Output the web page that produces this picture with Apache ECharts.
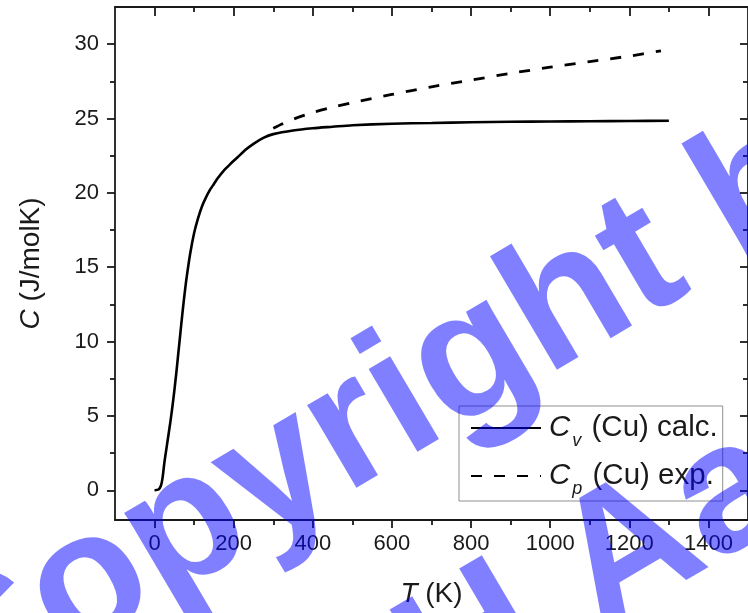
<!DOCTYPE html>
<html>
<head>
<meta charset="utf-8">
<script src="https://cdn.jsdelivr.net/npm/echarts@6/dist/echarts.min.js"></script>
<style>
html,body{margin:0;padding:0;background:#fff;}
#c{width:748px;height:613px;}
</style>
</head>
<body>
<div id="c"></div>
<script>
// ---- data ----
const cvT = [0, 10, 16, 20, 25, 30, 35, 40, 45, 50, 55, 60, 65, 70, 75, 80, 90, 100, 110, 120, 130, 140, 150, 160, 175, 190, 210, 230, 250, 275, 300, 350, 400, 450, 500, 600, 700, 800, 900, 1000, 1100, 1200, 1300];
const cvC = [0.0, 0.05, 0.3, 0.8, 1.9, 2.8, 3.7, 4.6, 5.6, 6.7, 7.9, 9.2, 10.5, 11.8, 13.0, 14.1, 15.9, 17.3, 18.3, 19.1, 19.7, 20.2, 20.6, 21.0, 21.5, 21.9, 22.4, 22.9, 23.3, 23.7, 23.95, 24.2, 24.35, 24.45, 24.55, 24.65, 24.7, 24.75, 24.78, 24.8, 24.82, 24.83, 24.85];
const cpT = [300, 325, 350, 400, 450, 500, 600, 700, 800, 900, 1000, 1100, 1200, 1280];
const cpC = [24.35, 24.67, 24.95, 25.4, 25.76, 26.07, 26.62, 27.13, 27.58, 28.04, 28.45, 28.83, 29.2, 29.55];

const xMajor = [0, 200, 400, 600, 800, 1000, 1200, 1400];
const xMinor = [100, 300, 500, 700, 900, 1100, 1300];
const yMajor = [0, 5, 10, 15, 20, 25, 30];
const yMinor = [2.5, 7.5, 12.5, 17.5, 22.5, 27.5];

const seriesNames = ['Cv (Cu) calc.', 'Cp (Cu) exp.'];
const legendMain = ['C', 'C'];
const legendSub = ['v', 'p'];
const legendRest = [' (Cu) calc.', ' (Cu) exp.'];

const watermarkLines = ['Copyright by', 'RWTH Aachen'];

// ---- chart ----
const FF = '"Liberation Sans", Arial, sans-serif';
const INK = '#1a1a1a';
const axisLS = {color: INK, width: 1.8};
const plain = v => String(v);

function xAx(pos, ticks, len, inside, labels, line, extra) {
  return Object.assign({
    type: 'value', min: -100, max: 1500, interval: 100, position: pos,
    axisLine: {show: line, onZero: false, lineStyle: axisLS},
    axisTick: {show: true, customValues: ticks, length: len, inside: inside, lineStyle: axisLS},
    axisLabel: labels ? {show: true, customValues: ticks, formatter: plain, fontSize: 22, fontFamily: FF, color: INK, margin: 13} : {show: false},
    splitLine: {show: false}
  }, extra || {});
}
function yAx(pos, ticks, len, inside, labels, line, extra) {
  return Object.assign({
    type: 'value', min: -2, max: 32.5, interval: 2.5, position: pos,
    axisLine: {show: line, onZero: false, lineStyle: axisLS},
    axisTick: {show: true, customValues: ticks, length: len, inside: inside, lineStyle: axisLS},
    axisLabel: labels ? {show: true, customValues: ticks, formatter: plain, fontSize: 22, fontFamily: FF, color: INK, margin: 16} : {show: false},
    splitLine: {show: false}
  }, extra || {});
}

const titleStyle = {
  fontSize: 28, fontFamily: FF, color: INK,
  rich: {i: {fontStyle: 'italic', fontSize: 28, fontFamily: FF, color: INK}}
};

const chart = echarts.init(document.getElementById('c'), null, {renderer: 'canvas'});

const deg = 30.5 * Math.PI / 180;
const p1 = [-72, 682];
const p2 = [63, 889];
const WM = 'bold 182px ' + FF;

chart.setOption({
  animation: false,
  backgroundColor: '#ffffff',
  grid: {left: 115, top: 7, right: -6, bottom: 90, containLabel: false},
  xAxis: [
    xAx('bottom', xMajor, 8, false, true, true, {
      name: '{i|T} (K)', nameLocation: 'middle', nameGap: 60, nameTextStyle: titleStyle
    }),
    xAx('bottom', xMinor, 5, false, false, false),
    xAx('top', xMajor, 9, true, false, true),
    xAx('top', xMinor, 5, true, false, false)
  ],
  yAxis: [
    yAx('left', yMajor, 8, false, true, true, {
      name: '{i|C} (J/molK)', nameLocation: 'middle', nameGap: 70, nameTextStyle: titleStyle
    }),
    yAx('left', yMinor, 5, false, false, false),
    yAx('right', yMajor, 8, true, false, true),
    yAx('right', yMinor, 5, true, false, false)
  ],
  legend: {
    orient: 'vertical', left: 459, top: 406,
    padding: [0, 5, 3, 11], itemGap: 4, itemWidth: 70, itemHeight: 14,
    borderColor: '#8f8f8f', borderWidth: 1, borderRadius: 0,
    itemStyle: {opacity: 0},
    data: seriesNames,
    formatter: function (name) {
      const k = seriesNames.indexOf(name);
      return '{i|' + legendMain[k] + '}{s|' + legendSub[k] + '}{r|' + legendRest[k] + '}';
    },
    textStyle: {
      fontSize: 29.5, fontFamily: FF, color: INK,
      rich: {
        i: {fontStyle: 'italic', fontSize: 29.5, fontFamily: FF, color: INK, lineHeight: 32, padding: [0, 0, 0, 3], verticalAlign: 'middle'},
        s: {fontStyle: 'italic', fontSize: 18, fontFamily: FF, color: INK, lineHeight: 18, padding: [26, 2, 0, 2], verticalAlign: 'middle'},
        r: {fontSize: 29.5, fontFamily: FF, color: INK, lineHeight: 32, verticalAlign: 'middle'}
      }
    }
  },
  series: [
    {
      name: seriesNames[0], type: 'line', xAxisIndex: 0, yAxisIndex: 0,
      data: cvT.map((t, i) => [t, cvC[i]]),
      showSymbol: false, symbol: 'none', smooth: 0.25,
      lineStyle: {color: '#000', width: 2.6, type: 'solid'},
      itemStyle: {color: '#000'}
    },
    {
      name: seriesNames[1], type: 'line', xAxisIndex: 0, yAxisIndex: 0,
      data: cpT.map((t, i) => [t, cpC[i]]),
      showSymbol: false, symbol: 'none', smooth: 0.3,
      lineStyle: {color: '#000', width: 2.8, type: [11, 12]},
      itemStyle: {color: '#000'}
    }
  ],
  graphic: [
    {type: 'text', x: p1[0], y: p1[1], rotation: deg, z: 100, silent: true,
     style: {text: watermarkLines[0], font: WM, fill: 'rgba(0,0,255,0.5)', textVerticalAlign: 'middle', textAlign: 'left'}},
    {type: 'text', x: p2[0], y: p2[1], rotation: deg, z: 100, silent: true,
     style: {text: watermarkLines[1], font: WM, fill: 'rgba(0,0,255,0.5)', textVerticalAlign: 'middle', textAlign: 'left'}}
  ]
});
</script>
</body>
</html>
